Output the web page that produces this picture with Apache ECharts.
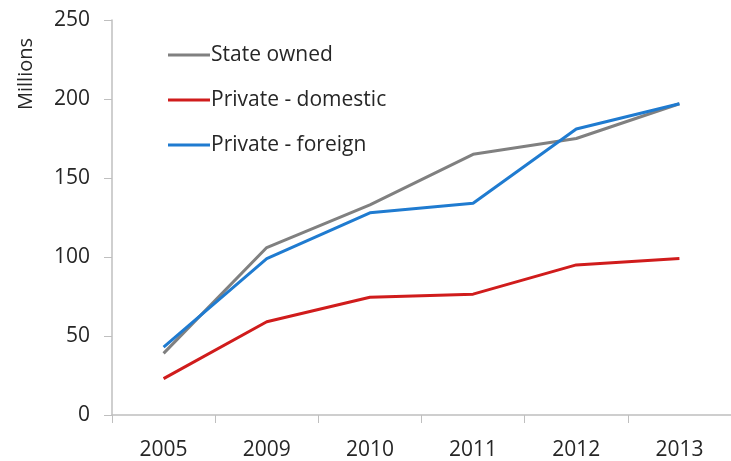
<!DOCTYPE html>
<html style="height: 100%">
<head>
  <meta charset="utf-8">
</head>
<body style="height: 100%; margin: 0">
  <div id="container" style="width: 731px; height: 461px"></div>
  <script type="text/javascript" src="https://fastly.jsdelivr.net/npm/echarts@6/dist/echarts.min.js"></script>
  <script type="text/javascript">
    var years = ['2005', '2009', '2010', '2011', '2012', '2013'];
    var stateOwned = [39, 106, 133, 165, 175, 197];
    var privateDomestic = [23, 59, 74.5, 76.5, 95, 99];
    var privateForeign = [43, 99, 128, 134, 181, 197];

    var font = '"Open Sans", sans-serif';
    var dom = document.getElementById('container');
    var myChart = echarts.init(dom, null, { renderer: 'canvas' });

    function line(name, data, color) {
      return {
        name: name,
        type: 'line',
        data: data,
        symbol: 'none',
        lineStyle: { width: 3, color: color },
        itemStyle: { color: color }
      };
    }

    var option = {
      backgroundColor: '#fff',
      animation: false,
      grid: { left: 112, top: 20, right: -8, bottom: 46 },
      legend: {
        orient: 'vertical',
        left: 163,
        top: 39,
        icon: 'rect',
        itemWidth: 42,
        itemHeight: 3,
        itemGap: 23,
        textStyle: { fontFamily: font, fontSize: 21, color: '#262626', lineHeight: 22, padding: [0, 0, 0, -4] }
      },
      graphic: [{
        type: 'text',
        x: 16,
        y: 110,
        rotation: Math.PI / 2,
        style: { text: 'Millions', fontFamily: font, fontSize: 20, fill: '#262626', textVerticalAlign: 'top' }
      }],
      xAxis: {
        type: 'category',
        data: years,
        boundaryGap: true,
        axisLine: { lineStyle: { color: '#bfbfbf', width: 1.5 } },
        axisTick: { show: true, length: 8, lineStyle: { color: '#bfbfbf' } },
        axisLabel: { margin: 25, fontFamily: font, fontSize: 21, color: '#262626' },
        splitLine: { show: false }
      },
      yAxis: {
        type: 'value',
        min: 0,
        max: 250,
        interval: 50,
        axisLine: { show: true, lineStyle: { color: '#bfbfbf', width: 1.5 } },
        axisTick: { show: true, length: 8, lineStyle: { color: '#bfbfbf' } },
        axisLabel: { margin: 22, fontFamily: font, fontSize: 21, color: '#262626' },
        splitLine: { show: false }
      },
      series: [
        line('State owned', stateOwned, '#808080'),
        line('Private - domestic', privateDomestic, '#d01c1c'),
        line('Private - foreign', privateForeign, '#1f7bd0')
      ]
    };

    myChart.setOption(option);
    window.addEventListener('resize', myChart.resize);
  </script>
</body>
</html>
